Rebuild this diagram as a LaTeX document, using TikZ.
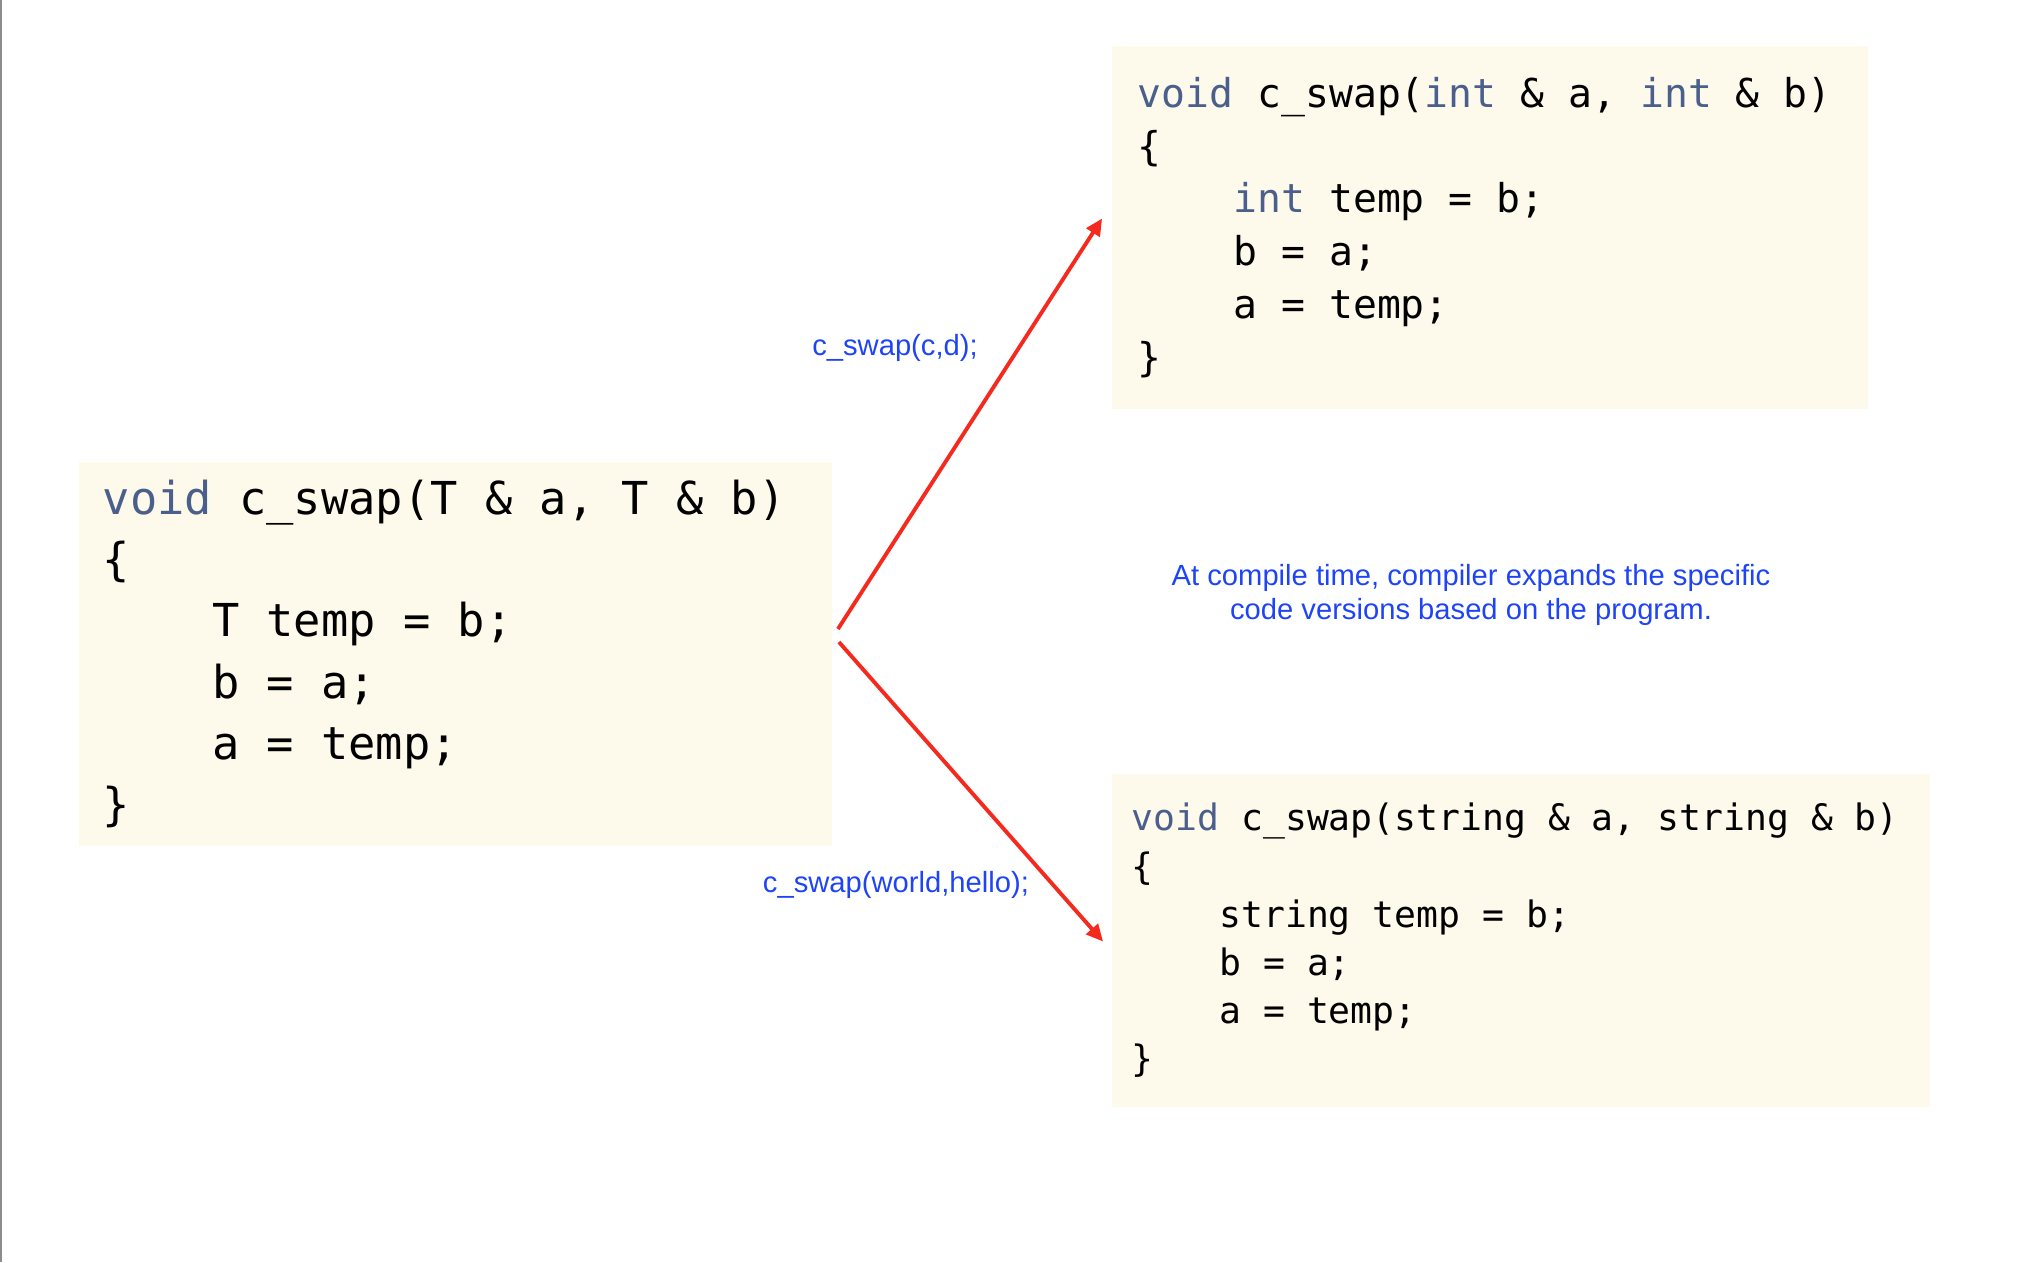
\documentclass[tikz,border=0pt]{standalone}
\usepackage{fontspec}
\setmainfont{Liberation Sans}
\setmonofont{DejaVu Sans Mono}
\usetikzlibrary{arrows.meta,calc}

\definecolor{cream}{HTML}{FEFAEB}
\definecolor{kwblue}{HTML}{4B5F8D}
\definecolor{instred}{HTML}{F42A1F}
\definecolor{noteblue}{HTML}{1E44F6}
\definecolor{rulegray}{HTML}{8C8C8C}

\newcommand{\kw}[1]{\textcolor{kwblue}{#1}}
\newcommand{\s}{\phantom{x}}
\newcommand{\ind}{\phantom{xxxx}}
\setlength{\parindent}{0pt}

\tikzset{
  codebox/.style={fill=cream, align=left, inner ysep=0pt},
  note/.style={text=noteblue, font=\fontsize{8.3}{9.7}\selectfont, align=center, inner sep=0pt},
  inst/.style={draw=instred, line width=1.1pt, -{Triangle[length=4.8pt,width=4.4pt]}},
}

\begin{document}
\begin{tikzpicture}[x=0.01cm,y=-0.01cm]
  \useasboundingbox (0,0) rectangle (2020,1262);
  \draw[rulegray, line width=0.6pt] (1,0) -- (1,1262);

  % the template
  \node[codebox, minimum width=7.53cm, minimum height=3.84cm, inner xsep=0.24cm, text width=7.05cm,
        font=\ttfamily\fontsize{12.9}{17.4}\selectfont] (tmpl) at (455.5,654) {%
    \kw{void}\s c\_swap(T\s\&\s a,\s T\s\&\s b)\\
    \{\\
    \ind T\s temp\s=\s b;\\
    \ind b\s=\s a;\\
    \ind a\s=\s temp;\\
    \}};

  % expanded versions
  \node[codebox, minimum width=7.56cm, minimum height=3.63cm, inner xsep=0.26cm, text width=7.04cm,
        font=\ttfamily\fontsize{11.3}{15.0}\selectfont] (intv) at (1490,227.5) {%
    \kw{void}\s c\_swap(\kw{int}\s\&\s a,\s\kw{int}\s\&\s b)\\
    \{\\
    \ind\kw{int}\s temp\s=\s b;\\
    \ind b\s=\s a;\\
    \ind a\s=\s temp;\\
    \}};
  \node[codebox, minimum width=8.18cm, minimum height=3.33cm, inner xsep=0.20cm, text width=7.78cm,
        font=\ttfamily\fontsize{10.35}{13.7}\selectfont] (strv) at (1521,940.5) {%
    \kw{void}\s c\_swap(string\s\&\s a,\s string\s\&\s b)\\
    \{\\
    \ind string\s temp\s=\s b;\\
    \ind b\s=\s a;\\
    \ind a\s=\s temp;\\
    \}};

  % calls
  \node[note] (callint) at (895,348) {c\_swap(c,d);};
  \node[note] (callstr) at (896,885) {c\_swap(world,hello);};
  \node[note] (expand) at (1471,595) {At compile time, compiler expands the specific\\code versions based on the program.};

  \draw[inst] ($(tmpl.east)+(5,-25)$) -- ($(intv.west)+(-9,-9)$);
  \draw[inst] ($(tmpl.east)+(6,-12)$) -- ($(strv.west)+(-8,1)$);
\end{tikzpicture}
\end{document}
